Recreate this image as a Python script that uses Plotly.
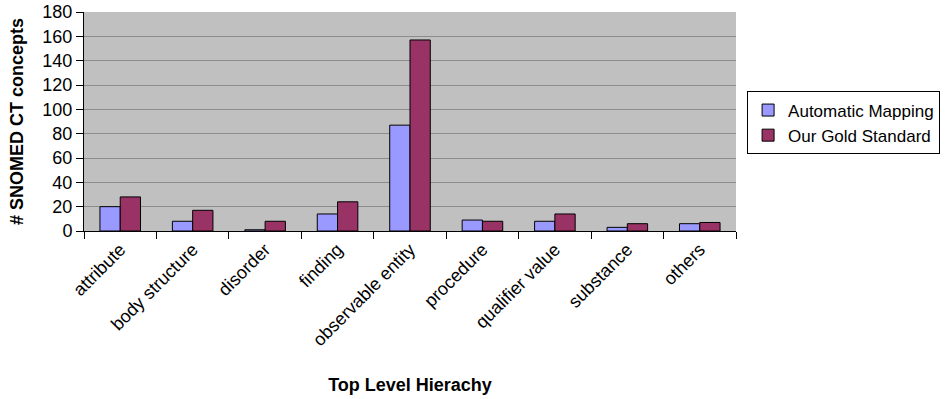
import plotly.graph_objects as go

categories = ["attribute", "body structure", "disorder", "finding", "observable entity",
              "procedure", "qualifier value", "substance", "others"]
automatic = [20, 8, 1, 14, 87, 9, 8, 3, 6]
gold = [28, 17, 8, 24, 157, 8, 14, 6, 7]
yticks = [0, 20, 40, 60, 80, 100, 120, 140, 160, 180]

font = "Liberation Sans, Arial, sans-serif"
fig = go.Figure()
fig.add_trace(go.Bar(x=categories, y=automatic, name="Automatic Mapping",
                     marker=dict(color="#9999FF", line=dict(color="#000000", width=1))))
fig.add_trace(go.Bar(x=categories, y=gold, name="Our Gold Standard",
                     marker=dict(color="#993366", line=dict(color="#000000", width=1))))

fig.update_layout(
    width=945, height=399,
    margin=dict(l=84, r=209, t=12, b=168, autoexpand=False),
    paper_bgcolor="white", plot_bgcolor="#C0C0C0",
    barmode="group", bargap=0.44, bargroupgap=0,
    font=dict(family=font, size=18, color="#000000"),
    showlegend=True,
    legend=dict(x=1.017, y=0.637, xanchor="left", yanchor="top",
                bordercolor="#000000", borderwidth=1, bgcolor="white",
                font=dict(size=17), tracegroupgap=0, itemwidth=30),
    xaxis=dict(type="category", tickangle=-45, tickson="boundaries",
               ticks="outside", ticklen=7, tickcolor="#000000",
               showline=True, linecolor="#000000", linewidth=1,
               tickfont=dict(size=18),
               title=dict(text="<b>Top Level Hierachy</b>", font=dict(size=18), standoff=29)),
    yaxis=dict(range=[0, 180], tickvals=yticks, ticks="outside", ticklen=7,
               tickcolor="#000000", showline=True, linecolor="#000000", linewidth=1,
               gridcolor="#8C8C8C", gridwidth=1, zeroline=False,
               tickfont=dict(size=18),
               title=dict(text="<b># SNOMED CT concepts</b>", font=dict(size=18), standoff=14)),
)
fig.write_html("out.html")
